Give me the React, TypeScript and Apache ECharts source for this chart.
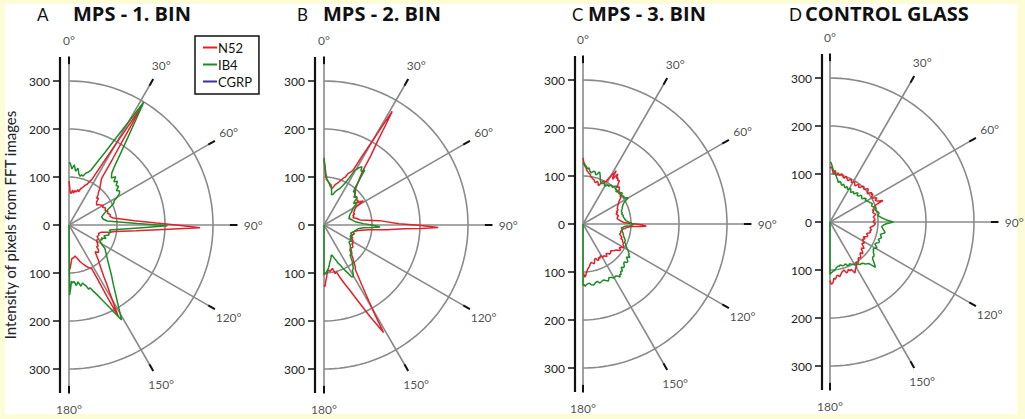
import React, { useEffect, useRef } from 'react';
import * as echarts from 'echarts';

// ---------- data: [angle in degrees, intensity] ----------
const A_N52 = [[0,92],[1,80],[2,68],[4,66],[6,73],[8,67],[10,73],[12,70],[14,76],[16,72],[18,80],[20,83],[22,89],[24,93],[25,99],[26.6,105],[28.9,153],[30.2,201],[31,249],[31.5,294],[31.9,252],[32.5,207],[33.5,163],[35,118],[37,110],[40,100],[42,92],[44,87],[46,80],[48,83],[50,75],[52,73],[54,71],[56,76],[58,78],[60,82],[62,79],[65,84],[68,81],[70,86],[73,84],[76,89],[78,87],[81,93],[86.2,137],[88.7,182],[90.15,228],[91.2,273],[91.9,229],[93,185],[94.9,140],[98,97],[100,86],[103,68],[106,64],[109,66],[112,63],[116,69],[119,65],[121,68],[124,72],[126,75],[128,73],[130,80],[133,84],[135.8,78],[140,95],[143.4,111],[146,130],[147.4,146],[149,165],[150,181],[151,200],[151.7,217],[152,170],[152.2,124],[152.6,102],[155,98],[157,94],[160,87],[163,80],[166,72],[169,66],[172,69],[175,70],[177,80],[178.5,90],[180,95]];
const A_IB4 = [[0,128],[1,130],[3,117],[5,126],[7,113],[9,120],[11,108],[13,104],[14,108],[16,106],[18,114],[20,117],[22,124],[24,142],[26.3,168],[28.7,213],[30.3,257],[31.3,300],[32.4,261],[33.9,220],[36,180],[37.5,158],[39.5,140],[42,132],[44,140],[46,130],[48,136],[50,128],[52,131],[54,122],[56,127],[58,124],[60,116],[62,106],[64,104],[66,96],[68,88],[70,82],[72,77],[76,70],[80,72],[84,80],[88.7,142],[90.5,205],[92.4,145],[97,85],[100,89],[102,84],[104,86],[107,76],[110,82],[112,72],[114,76],[116,71],[118,74],[121,80],[123,89],[130.4,104],[135.8,120],[140,138],[143.2,154],[147.9,190],[151,226],[153.9,191],[156,172],[158,157],[160,146],[161.5,138],[163,140],[164,133],[166,127],[167,124],[169,130],[171,120],[173,127],[175,118],[176.5,121],[177.5,117],[178.5,132],[179.5,146],[180,146],[180,0]];

const B_N52 = [[0,135],[0.8,122],[1.5,108],[3,95],[5,92],[7,88],[9,82],[11,80],[12,77],[14,82],[15,86],[17,90],[19,94],[20,98],[22,104],[24,110],[25,118],[27,124],[28,130],[29,165],[30,204],[30.5,240],[31,276],[31.7,243],[32.5,209],[34,175],[35.5,141],[37,125],[38,118],[40,106],[41,100],[43,96],[44.5,92],[46,90],[48,87],[50,90],[52,85],[54,88],[56,82],[57,90],[58.5,96],[60,80],[61,76],[63,72],[65,70],[68,66],[70,68],[72,63],[74,65],[76,62],[78,68],[80,72],[82,76],[85.5,116],[89,156],[90.2,197],[91.3,238],[92,202],[92.7,167],[94.3,131],[96,96],[98,78],[100,70],[102,65],[104,62],[106,66],[108,64],[110,61],[112,60],[114,66],[116,63],[118,69],[120,67],[122,72],[124,70],[126,74],[128,76],[131,73],[134,75],[137,84],[139,92],[141,98],[143,108],[145,114],[147.9,150],[149.5,185],[150.5,220],[151,256],[153.3,214],[156,172],[158,150],[160.5,131],[163,115],[165,101],[167,104],[169,92],[171,95],[172.5,98],[174,94],[176,99],[177,108],[178,115],[179,128],[180,125]];
const B_IB4 = [[0,140],[0.8,125],[2,108],[3,100],[4,94],[6,90],[7,88],[9,86],[10,85],[11,80],[12,75],[13,70],[14,65],[15.5,66],[17,68],[18.5,73],[20,76],[22,80],[23.5,83],[25.7,92],[27,100],[28,110],[29.5,132],[30.5,135],[31.5,140],[33,145],[34,138],[35,136],[36.5,143],[37.5,128],[38.5,115],[40,100],[41.5,92],[43,96],[44,93],[46,88],[47,85],[49,90],[51,88],[52.5,80],[54,76],[55.5,82],[57,80],[58.5,74],[60,70],[62,68],[64,64],[66,61],[68,58],[70,57],[72,55],[74,56],[75,53],[77,56],[80,60],[82,62],[84,66],[86,72],[88,82],[90,100],[92,117],[93,100],[94,82],[95.5,74],[97,70],[99,68],[100,66],[102,64],[103,63],[105,60],[107,58],[109,62],[110,64],[112,59],[114,60],[116,63],[117,61],[119,64],[121,66],[123,63],[125,64],[127,68],[130,72],[132,76],[134,80],[136,84],[137,82],[139,83],[141,90],[142,95],[144,102],[146,109],[148,112],[149,118],[150.5,124],[152,122],[153.5,112],[155,105],[156.5,97],[158,90],[160,84],[161,78],[163,72],[164,68],[165.6,64.5],[167,66],[168,70],[169.5,74],[171,78],[172.5,84],[174,90],[175.5,94],[177,98],[178.5,102],[180,104],[180,0]];

const C_N52 = [[0,138],[0.6,130],[1,125],[2,120],[3,118],[4,112],[5,110],[6.5,107],[8,105],[9.5,100],[11,98],[12.5,96],[14,95],[15.5,91],[17,90],[18.5,94],[20,92],[21,88],[22,86],[23,90],[24,95],[25,98],[26,100],[27.5,97],[28.5,102],[29.5,110],[30.5,118],[31.5,126],[32,131],[32.5,115],[33.5,112],[34,120],[35,127],[36,118],[37,121],[38.5,116],[40,118],[41.5,110],[43,105],[44.5,108],[46,105],[48,100],[50,98],[52,101],[53.5,96],[55,97],[56.5,92],[58,88],[60,86],[62,82],[64,80],[66,78],[68,79],[70,74],[71.5,76],[73,72],[75,74],[77,76],[79,73],[81,72],[83,75],[85,78],[86.5,82],[88,85],[89,95],[90,110],[91,124],[92,132],[92.5,118],[93,100],[94,94],[95,90],[96,88],[97,84],[99,82],[101,80],[103,81],[105,79],[107,82],[109,86],[110.5,84],[112,89],[114,90],[115.5,94],[117,93],[118.5,97],[120,98],[121.5,93],[123,90],[124.5,95],[126,94],[128,88],[130,86],[132,83],[134,80],[136,83],[138,84],[140,80],[142,78],[143.5,84],[145,82],[147,79],[149,81],[150.5,76],[152,76],[153.5,80],[155,77],[156.5,82],[158,82],[160,76],[162,78],[164,86],[166,84],[168,82],[170,85],[171.5,90],[173,92],[174.5,96],[176,102],[177,108],[178,111],[179,104],[180,105]];
const C_IB4 = [[0,124],[1,128],[2,124],[3.5,119],[5,115],[6,118],[7.5,111],[9,108],[10,110],[11.5,112],[13,112],[14.5,106],[16,108],[17,113],[18,113],[19,109],[20,105],[21,100],[22,97],[23.5,94],[25,92],[26.5,96],[28,95],[29.5,91],[31,93],[32.5,97],[34,95],[35.5,99],[37,100],[38.5,98],[40,103],[41.5,106],[43,99],[44,100],[45.5,96],[47,101],[48.5,98],[50,102],[52,104],[53.5,99],[55,102],[56,103],[57.5,101],[59,106],[60,109],[61,103],[62,98],[63,95],[64,93],[66,90],[68,88],[70,86],[72,84],[74,85],[76,83],[78,86],[80,85],[82,87],[84,88],[85.5,90],[86,91],[87.5,95],[89,100],[90,103],[91,105],[92,98],[93,88],[94.5,84],[96,80],[98,83],[100,82],[102,85],[104,86],[106,88],[108,90],[110,93],[112,95],[113.5,94],[115,98],[116.5,100],[118,103],[119.5,106],[121,110],[122,112],[123,115],[124,114],[125.5,120],[127,114],[128,116],[129.5,121],[131,122],[132.5,117],[134,118],[135.5,123],[137,124],[138.5,120],[140,128],[141.5,126],[143,132],[144,130],[145,135],[146.5,130],[148,128],[150,130],[152,126],[154,124],[156,130],[158,127],[160,124],[162,126],[164,128],[166,123],[168,125],[170,129],[172,128],[174,124],[176.5,126],[178,130],[179,126],[180,128],[180,0]];

const D_N52 = [[0,112],[1,115],[2,113],[3,106],[4,100],[5,104],[6,108],[7,101],[8,98],[9.5,104],[11,99],[12,100],[13.5,103],[15,102],[16.5,97],[18,96],[19.5,101],[21,98],[22.5,95],[24,94],[25.5,99],[27,98],[28.5,94],[30,95],[31,99],[32,97],[33.5,93],[35,92],[36.5,97],[38,98],[39.5,94],[41,95],[42.5,101],[44,102],[45.5,98],[47,100],[48.5,105],[50,104],[51.5,99],[53,98],[54,104],[55,106],[56,103],[57,107],[58.5,102],[60,100],[61.5,105],[63,110],[64.5,104],[66,108],[67,113],[68,119],[69,106],[70,100],[71.5,97],[73,96],[74.5,92],[76,94],[77,91],[78,92],[79.5,95],[81,96],[82.5,92],[84,91],[85.5,93],[87,94],[88.5,91],[90,90],[91,92],[92,95],[93.5,93],[95,91],[96.5,87],[98,84],[99.5,86],[101,88],[102.5,85],[104,87],[105,86],[106.5,82],[108,80],[109.5,83],[111,84],[112.5,80],[114,76],[115,79],[116,81],[117.5,77],[119,78],[120.5,82],[122,84],[123.5,80],[125,82],[126.5,87],[128,90],[129.5,85],[131,87],[132.5,92],[134,95],[135.5,90],[137,92],[138.5,97],[140,98],[141.5,95],[143,98],[144.5,102],[146,104],[147.5,100],[149,108],[150.5,110],[152,112],[153,116],[154,118],[155,112],[156,108],[157.5,110],[159,106],[160.5,110],[162,112],[163,107],[164,104],[165.5,106],[167,108],[168.5,112],[170,116],[171.5,112],[173,113],[174,118],[175,120],[176,117],[177,126],[178.5,130],[179.5,126],[180,122]];
const D_IB4 = [[0,124],[1,124],[2,118],[3,112],[4,108],[5,104],[6.5,100],[8,96],[9,92],[10,90],[11,87],[12,84],[13.5,87],[15,86],[16.5,82],[18,80],[19.5,84],[21,82],[22.5,79],[24,78],[25.5,82],[27,80],[28,77],[29,78],[30.5,80],[32,82],[33.5,78],[35,75],[36.5,78],[38,80],[39.5,77],[41,78],[42.5,82],[44,84],[45.5,79],[47.5,80],[49,84],[50,86],[52,84],[54,82],[55.5,87],[57,90],[58.5,86],[60,88],[62,91],[64,92],[65.5,95],[67,96],[68.5,93],[70,94],[71.5,98],[73,100],[74.5,97],[76,98],[78,102],[80,104],[81.5,101],[83,102],[84.5,106],[86,110],[87,114],[88,118],[89,125],[90,132],[91,124],[92,116],[93,112],[95,108],[96.5,110],[98,112],[99.5,115],[101,117],[102.5,112],[104,108],[105.5,110],[107,112],[108.5,109],[110,107],[111.5,111],[113,110],[114.5,106],[116,104],[117.5,108],[119,112],[120.5,108],[122,106],[123.5,109],[125,110],[126.5,114],[128,116],[129.5,115],[131,118],[132,122],[133,126],[134,130],[135,134],[136,125],[137,118],[138.5,116],[140,114],[141.5,110],[143,108],[144.5,109],[146,106],[148,104],[149.5,102],[151,101],[152,100],[153.5,98],[155,96],[156.5,99],[158,98],[159,95],[160.5,93],[162,95],[164,95],[165.5,93],[167,92],[168,94],[169.5,93.5],[171,95],[172,96],[173,98],[174,100],[175,102],[176,102],[177,104],[178,105],[179,107],[180,109],[180,0]];

const PANEL_LETTERS = ['A', 'B', 'C', 'D'];
const PANEL_TITLES = ['MPS - 1. BIN', 'MPS - 2. BIN', 'MPS - 3. BIN', 'CONTROL GLASS'];
const N52_DATA = [A_N52, B_N52, C_N52, D_N52];
const IB4_DATA = [A_IB4, B_IB4, C_IB4, D_IB4];
const SPOKE_ANGLES = [0, 30, 60, 90, 120, 150, 180];
const SPOKE_LABELS = ['0°', '30°', '60°', '90°', '120°', '150°', '180°'];
const RING_VALUES = [100, 200, 300];
const AXIS_TICKS = [-300, -200, -100, 0, 100, 200, 300];
const SERIES_NAMES = ['N52', 'IB4', 'CGRP'];
const Y_TITLE = 'Intensity of pixels from FFT images';

// ---------- layout / style ----------
const CENTERS = [[69, 225], [324, 225], [583, 224], [830, 222]];
const AXIS_OFFSET = [9, 9, 8, 8];
const LETTER_X = [37, 297, 572, 789];
const TITLE_X = [73, 323, 588, 805];
const PX_PER_UNIT = 0.48;
const R_MAX = 420;
const SPOKE_END = 335;
const TIP_END = 351;
const LABEL_R = 384;
const RED = '#e5202a';
const GREEN = '#1c8c24';
const BLUE = '#34349a';
const GRAY = '#8a8a8a';
const FONT = 'Lato, "Open Sans", sans-serif';

function buildOption() {
  const polar: any[] = [];
  const angleAxis: any[] = [];
  const radiusAxis: any[] = [];
  const grid: any[] = [];
  const xAxis: any[] = [];
  const yAxis: any[] = [];
  const series: any[] = [];
  const graphic: any[] = [
    { type: 'rect', left: 5, top: 4, shape: { width: 1012, height: 410 }, style: { fill: '#ffffff' }, z: -100, silent: true },
  ];
  const ringAngles: number[] = [];
  for (let a = 0; a <= 180; a += 2) ringAngles.push(a);

  CENTERS.forEach(([cx, cy], i) => {
    polar.push({ center: [cx, cy], radius: R_MAX * PX_PER_UNIT });
    angleAxis.push({ polarIndex: i, type: 'value', min: 0, max: 360, startAngle: 90, clockwise: true, show: false });
    radiusAxis.push({ polarIndex: i, type: 'value', min: 0, max: R_MAX, show: false });

    RING_VALUES.forEach((rv) => {
      series.push({
        type: 'line', coordinateSystem: 'polar', polarIndex: i, silent: true, symbol: 'none',
        data: ringAngles.map((a) => [rv, a]),
        lineStyle: { color: GRAY, width: 1.6 }, z: 1,
      });
    });
    SPOKE_ANGLES.forEach((a) => {
      series.push({
        type: 'line', coordinateSystem: 'polar', polarIndex: i, silent: true, symbol: 'none',
        data: [[0, a], [SPOKE_END, a]], lineStyle: { color: GRAY, width: 1.6 }, z: 1,
      });
      series.push({
        type: 'line', coordinateSystem: 'polar', polarIndex: i, silent: true, symbol: 'none',
        data: [[SPOKE_END, a], [TIP_END, a]], lineStyle: { color: '#111', width: 2 }, z: 1,
      });
    });
    series.push({
      type: 'scatter', coordinateSystem: 'polar', polarIndex: i, silent: true,
      symbolSize: 1, itemStyle: { color: 'rgba(0,0,0,0)' },
      data: SPOKE_ANGLES.map((a, k) => ({ value: [LABEL_R, a], name: SPOKE_LABELS[k] })),
      label: { show: true, position: 'inside', formatter: '{b}', fontSize: 12, color: '#222', fontFamily: FONT },
      z: 3,
    });
    series.push({
      name: 'N52', type: 'line', coordinateSystem: 'polar', polarIndex: i, symbol: 'none',
      data: N52_DATA[i].map(([a, r]) => [r, a]),
      lineStyle: { color: RED, width: 1.5 }, itemStyle: { color: RED }, z: 4,
    });
    series.push({
      name: 'IB4', type: 'line', coordinateSystem: 'polar', polarIndex: i, symbol: 'none',
      data: IB4_DATA[i].map(([a, r]) => [r, a]),
      lineStyle: { color: GREEN, width: 1.5 }, itemStyle: { color: GREEN }, z: 5,
    });

    const ax = cx - AXIS_OFFSET[i];
    grid.push({ left: ax, top: cy - 300 * PX_PER_UNIT, width: 1, height: 600 * PX_PER_UNIT });
    xAxis.push({ gridIndex: i, type: 'value', min: 0, max: 1, show: false });
    yAxis.push({
      gridIndex: i, type: 'value', min: AXIS_TICKS[0], max: AXIS_TICKS[AXIS_TICKS.length - 1], interval: 100,
      axisLine: { show: false },
      axisTick: { show: true, length: 7, lineStyle: { color: '#111', width: 1.5 } },
      axisLabel: { formatter: (v: number) => String(Math.abs(v)), margin: 10, fontSize: 12, color: '#222', fontFamily: FONT },
      splitLine: { show: false },
      ...(i === 0
        ? { name: Y_TITLE, nameLocation: 'middle', nameGap: 43, nameRotate: 90, nameTextStyle: { fontSize: 15, color: '#222', fontFamily: FONT } }
        : {}),
    });
    series.push({
      type: 'line', xAxisIndex: i, yAxisIndex: i, silent: true, symbol: 'none', clip: false,
      data: [[0, -350], [0, 350]], lineStyle: { color: '#111', width: 2.2 }, z: 2,
    });

    graphic.push({ type: 'text', left: LETTER_X[i], top: 6, style: { text: PANEL_LETTERS[i], font: `400 17px Lato, sans-serif`, fill: '#111' } });
    graphic.push({ type: 'text', left: TITLE_X[i], top: 3, style: { text: PANEL_TITLES[i], font: `700 20px "Open Sans", sans-serif`, fill: '#111' } });
  });

  series.push({
    name: 'CGRP', type: 'line', coordinateSystem: 'polar', polarIndex: 0, symbol: 'none', data: [],
    lineStyle: { color: BLUE, width: 1.4 }, itemStyle: { color: BLUE },
  });

  return {
    animation: false,
    backgroundColor: '#fcfcd6',
    polar, angleAxis, radiusAxis, grid, xAxis, yAxis, series, graphic,
    legend: {
      data: SERIES_NAMES.map((n) => ({ name: n, icon: 'rect' })),
      orient: 'vertical', left: 195, top: 36, itemWidth: 14, itemHeight: 2, itemGap: 4,
      padding: [5, 7, 6, 8], borderColor: '#111', borderWidth: 1.5, selectedMode: false,
      textStyle: { fontSize: 13, color: '#111', fontFamily: FONT, padding: [0, 0, 0, -4] },
    },
  };
}

export default function App() {
  const ref = useRef<HTMLDivElement>(null);
  useEffect(() => {
    document.body.style.margin = '0';
    if (!ref.current) return;
    const chart = echarts.init(ref.current, undefined, { renderer: 'svg' });
    chart.setOption(buildOption() as any);
    return () => chart.dispose();
  }, []);
  return <div ref={ref} style={{ width: 1025, height: 419 }} />;
}
